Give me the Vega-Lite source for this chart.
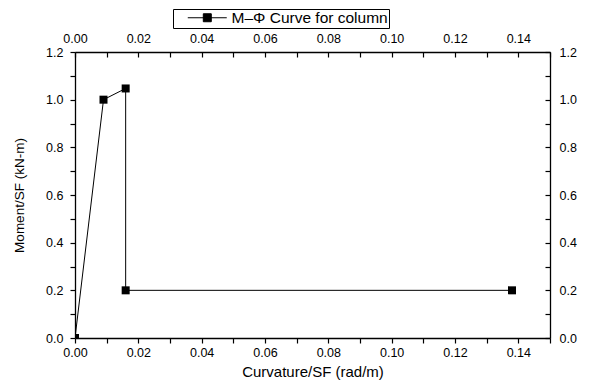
{
  "$schema": "https://vega.github.io/schema/vega-lite/v6.json",
  "width": 475,
  "height": 286,
  "autosize": "none",
  "padding": {"left": 75, "top": 52, "right": 42, "bottom": 47},
  "background": "white",
  "config": {
    "view": {"stroke": null},
    "font": "Liberation Sans",
    "axis": {
      "domainColor": "black", "domainWidth": 1.3, "tickColor": "black", "tickWidth": 1.2,
      "labelColor": "black", "titleColor": "black", "labelFont": "Liberation Sans", "titleFont": "Liberation Sans",
      "labelFontSize": 12.5, "titleFontSize": 14, "titleFontWeight": "normal", "grid": false, "tickSize": 5,
      "labelFlush": false, "labelOverlap": false
    }
  },
  "data": {"values": [
    {"curv": 0.0, "moment": 0.0, "series": "M–Φ Curve for column"},
    {"curv": 0.009, "moment": 1.0, "series": "M–Φ Curve for column"},
    {"curv": 0.016, "moment": 1.047, "series": "M–Φ Curve for column"},
    {"curv": 0.016, "moment": 0.2, "series": "M–Φ Curve for column"},
    {"curv": 0.138, "moment": 0.2, "series": "M–Φ Curve for column"}
  ]},
  "layer": [
    {
      "mark": {"type": "line", "color": "black", "strokeWidth": 1, "clip": true},
      "encoding": {
        "x": {"field": "curv", "type": "quantitative", "scale": {"domain": [0, 0.15], "nice": false},
          "axis": {"orient": "bottom", "title": "Curvature/SF (rad/m)", "titleFontSize": 15, "format": ".2f",
            "values": [0,0.01,0.02,0.03,0.04,0.05,0.06,0.07,0.08,0.09,0.1,0.11,0.12,0.13,0.14,0.15],
            "labelExpr": "round(datum.value*100) % 2 == 0 ? datum.label : ''", "labelPadding": 3, "titlePadding": 6}},
        "y": {"field": "moment", "type": "quantitative", "scale": {"domain": [0, 1.2], "nice": false},
          "axis": {"orient": "left", "title": "Moment/SF (kN-m)", "titleFontSize": 13.5, "format": ".1f",
            "values": [0,0.1,0.2,0.3,0.4,0.5,0.6,0.7,0.8,0.9,1.0,1.1,1.2],
            "labelExpr": "round(datum.value*10) % 2 == 0 ? datum.label : ''", "labelPadding": 7, "titlePadding": 19}},
        "order": {"field": "curv", "type": "quantitative"}
      }
    },
    {
      "mark": {"type": "point", "shape": "square", "filled": true, "size": 64, "opacity": 1, "clip": true},
      "encoding": {
        "x": {"field": "curv", "type": "quantitative", "scale": {"domain": [0, 0.15], "nice": false},
          "axis": {"orient": "top", "title": null, "format": ".2f", "tickSize": -5,
            "values": [0,0.01,0.02,0.03,0.04,0.05,0.06,0.07,0.08,0.09,0.1,0.11,0.12,0.13,0.14,0.15],
            "labelExpr": "round(datum.value*100) % 2 == 0 ? datum.label : ''", "labelPadding": 12}},
        "y": {"field": "moment", "type": "quantitative", "scale": {"domain": [0, 1.2], "nice": false},
          "axis": {"orient": "right", "title": null, "format": ".1f", "tickSize": -5,
            "values": [0,0.1,0.2,0.3,0.4,0.5,0.6,0.7,0.8,0.9,1.0,1.1,1.2],
            "labelExpr": "round(datum.value*10) % 2 == 0 ? datum.label : ''", "labelPadding": 14}},
        "color": {"field": "series", "type": "nominal", "scale": {"range": ["black"]},
          "legend": {"title": null, "orient": "none", "legendX": 98, "legendY": -43,
            "strokeColor": "black", "fillColor": "white", "padding": 1,
            "symbolType": "M0.86,0H6.43M3.08,-0.57H4.22V0.57H3.08Z", "symbolSize": 196,
            "symbolFillColor": "black", "symbolStrokeColor": "black", "symbolStrokeWidth": 1,
            "labelFontSize": 15.5, "labelFont": "Liberation Sans", "labelColor": "black", "labelOffset": 42}}
      }
    }
  ],
  "resolve": {"axis": {"x": "independent", "y": "independent"}}
}
